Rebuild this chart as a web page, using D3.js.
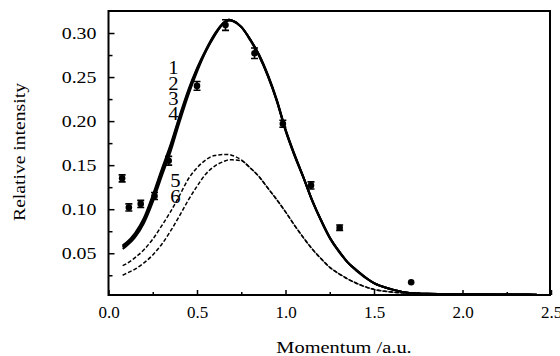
<!DOCTYPE html>
<html>
<head>
<meta charset="utf-8">
<script src="https://cdn.jsdelivr.net/npm/d3@7"></script>
<style>
  body { margin: 0; background: #fff; }
  text { font-family: "Liberation Serif", "Times New Roman", serif; fill: #000; }
</style>
</head>
<body>
<div id="chart"></div>
<script>
const chartWidth = 560;
const chartHeight = 356;

// measured data points with error bars
var pointX = [0.077, 0.115, 0.182, 0.26, 0.34, 0.50, 0.661, 0.825, 0.985, 1.144, 1.306, 1.71];
var pointY = [0.135, 0.102, 0.106, 0.115, 0.155, 0.240, 0.309, 0.277, 0.197, 0.127, 0.079, 0.017];
var pointErr = [0.004, 0.004, 0.004, 0.004, 0.005, 0.005, 0.006, 0.006, 0.004, 0.004, 0.003, 0.0];

// calculated curves, all sampled at curveX
var curveX = [0.08, 0.10, 0.15, 0.20, 0.25, 0.30, 0.35, 0.40, 0.45, 0.50,
              0.55, 0.60, 0.65, 0.68, 0.70, 0.75, 0.80, 0.85, 0.90, 0.95,
              1.00, 1.05, 1.10, 1.15, 1.20, 1.25, 1.30, 1.35, 1.40, 1.50,
              1.60, 1.70, 1.80, 2.00, 2.20, 2.42];
var curve1 = [0.057, 0.060, 0.070, 0.086, 0.111, 0.140, 0.168, 0.201, 0.232, 0.258,
              0.280, 0.298, 0.311, 0.315, 0.314, 0.307, 0.293, 0.275, 0.252, 0.224,
              0.190, 0.162, 0.137, 0.110, 0.088, 0.068, 0.053, 0.040, 0.031, 0.016,
              0.009, 0.005, 0.004, 0.0035, 0.0032, 0.003];
var curve2 = [0.059, 0.062, 0.073, 0.090, 0.116, 0.145, 0.173, 0.205, 0.235, 0.260,
              0.281, 0.299, 0.312, 0.315, 0.314, 0.307, 0.293, 0.275, 0.252, 0.224,
              0.190, 0.162, 0.137, 0.110, 0.088, 0.068, 0.053, 0.040, 0.031, 0.016,
              0.009, 0.005, 0.004, 0.0035, 0.0032, 0.003];
var curve3 = [0.055, 0.058, 0.068, 0.084, 0.108, 0.137, 0.165, 0.198, 0.229, 0.256,
              0.279, 0.297, 0.311, 0.314, 0.314, 0.307, 0.293, 0.276, 0.253, 0.225,
              0.191, 0.163, 0.137, 0.111, 0.088, 0.068, 0.053, 0.040, 0.031, 0.016,
              0.009, 0.005, 0.004, 0.0035, 0.0032, 0.003];
var curve4 = [0.058, 0.061, 0.071, 0.088, 0.114, 0.143, 0.171, 0.203, 0.233, 0.259,
              0.280, 0.298, 0.311, 0.315, 0.314, 0.307, 0.292, 0.274, 0.251, 0.223,
              0.189, 0.161, 0.136, 0.110, 0.087, 0.067, 0.052, 0.040, 0.030, 0.016,
              0.009, 0.005, 0.004, 0.0035, 0.0032, 0.003];
var curve5 = [0.036, 0.038, 0.045, 0.054, 0.066, 0.081, 0.097, 0.115, 0.134, 0.147,
              0.156, 0.161, 0.162, 0.162, 0.161, 0.156, 0.147, 0.137, 0.124, 0.111,
              0.097, 0.082, 0.068, 0.055, 0.044, 0.034, 0.027, 0.021, 0.016, 0.009,
              0.006, 0.0045, 0.004, 0.0035, 0.0032, 0.003];
var curve6 = [0.025, 0.027, 0.032, 0.039, 0.048, 0.060, 0.075, 0.092, 0.110, 0.126,
              0.140, 0.149, 0.154, 0.156, 0.156, 0.155, 0.147, 0.137, 0.124, 0.111,
              0.097, 0.082, 0.068, 0.055, 0.044, 0.034, 0.027, 0.021, 0.016, 0.009,
              0.006, 0.0045, 0.004, 0.0035, 0.0032, 0.003];

var xTicks = [0.0, 0.5, 1.0, 1.5, 2.0, 2.5];
var xMinor = [0.25, 0.75, 1.25, 1.75, 2.25];
var yTicks = [0.05, 0.10, 0.15, 0.20, 0.25, 0.30];
var yMinor = [0.025, 0.075, 0.125, 0.175, 0.225, 0.275];

var solidLabels = ["1", "2", "3", "4"];
var dashLabels = ["5", "6"];

var xScale = d3.scaleLinear().domain([0, 2.5]).range([108.5, 551]);
var yScale = d3.scaleLinear().domain([0.0026, 0.325]).range([295, 11]);

var svg = d3.select("#chart")
            .append("svg")
            .attr("width", chartWidth)
            .attr("height", chartHeight);

var line = d3.line()
            .x((d) => xScale(d[0]))
            .y((d) => yScale(d[1]))
            .curve(d3.curveMonotoneX);

var solids = [curve1, curve2, curve3, curve4];
solids.forEach(function(c) {
  svg.append("path")
      .datum(curveX.map((x, i) => [x, c[i]]))
      .attr("fill", "none")
      .attr("stroke", "#000")
      .attr("stroke-width", 2)
      .attr("d", line);
});

[curve5, curve6].forEach(function(c) {
  svg.append("path")
      .datum(curveX.map((x, i) => [x, c[i]]))
      .attr("fill", "none")
      .attr("stroke", "#000")
      .attr("stroke-width", 1.5)
      .attr("stroke-dasharray", "4,2")
      .attr("d", line);
});

// error bars + points
var pts = pointX.map((x, i) => ({x: x, y: pointY[i], e: pointErr[i]}));
var g = svg.append("g").selectAll("g").data(pts).enter().append("g");
g.filter(d => d.e > 0).append("path")
  .attr("fill", "none")
  .attr("stroke", "#000")
  .attr("stroke-width", 1.6)
  .attr("d", function(d) {
    var cx = xScale(d.x), y1 = yScale(d.y - d.e), y2 = yScale(d.y + d.e);
    return "M" + cx + "," + y1 + "V" + y2 +
           "M" + (cx - 3.5) + "," + y1 + "H" + (cx + 3.5) +
           "M" + (cx - 3.5) + "," + y2 + "H" + (cx + 3.5);
  });
g.append("circle")
  .attr("cx", d => xScale(d.x))
  .attr("cy", d => yScale(d.y))
  .attr("r", 3.3)
  .attr("fill", "#000");

// frame
svg.append("rect")
  .attr("x", xScale(0)).attr("y", yScale.range()[1])
  .attr("width", 550 - xScale(0))
  .attr("height", yScale.range()[0] - yScale.range()[1])
  .attr("fill", "none")
  .attr("stroke", "#000")
  .attr("stroke-width", 2);

var xAxis = d3.axisBottom(xScale).tickValues(xTicks).tickSize(-5).tickPadding(11)
              .tickFormat(d3.format(".1f"));
var gx = svg.append("g")
  .attr("transform", "translate(0," + yScale.range()[0] + ")")
  .call(xAxis);
gx.select(".domain").remove();
gx.selectAll("line").attr("stroke-width", 1.5);
gx.selectAll("text")
  .attr("font-size", 17)
  .each(function() {
    var t = d3.select(this);
    t.attr("transform", "translate(" + t.attr("x") + ",0) scale(1.08,1)").attr("x", 0);
  });

svg.append("g")
  .attr("transform", "translate(0," + yScale.range()[0] + ")")
  .call(d3.axisBottom(xScale).tickValues(xMinor).tickSize(-3).tickFormat(""))
  .call(s => s.select(".domain").remove())
  .selectAll("line").attr("stroke-width", 1.5);

var yAxis = d3.axisLeft(yScale).tickValues(yTicks).tickSize(-6).tickPadding(12)
              .tickFormat(d3.format(".2f"));
var gy = svg.append("g")
  .attr("transform", "translate(" + xScale(0) + ",0)")
  .call(yAxis);
gy.select(".domain").remove();
gy.selectAll("line").attr("stroke-width", 1.5);
gy.selectAll("text")
  .attr("font-size", 17)
  .attr("x", 0)
  .attr("transform", "translate(-12,0) scale(1.17,1)");

svg.append("g")
  .attr("transform", "translate(" + xScale(0) + ",0)")
  .call(d3.axisLeft(yScale).tickValues(yMinor).tickSize(-4).tickFormat(""))
  .call(s => s.select(".domain").remove())
  .selectAll("line").attr("stroke-width", 1.5);

// axis titles
svg.append("text")
  .attr("text-anchor", "middle")
  .attr("font-size", 17)
  .attr("transform", "translate(344,353) scale(1.2,1)")
  .text("Momentum /a.u.");

svg.append("text")
  .attr("text-anchor", "middle")
  .attr("font-size", 16.5)
  .attr("transform", "translate(24.5,152) rotate(-90) scale(1.19,1)")
  .text("Relative intensity");

// curve labels
svg.selectAll(".lab1").data(solidLabels).enter().append("text")
  .attr("text-anchor", "middle")
  .attr("font-size", 18)
  .attr("transform", (d, i) => "translate(173.5," + (74.3 + i * 15.3) + ") scale(1.15,1)")
  .text(d => d);

svg.selectAll(".lab2").data(dashLabels).enter().append("text")
  .attr("text-anchor", "middle")
  .attr("font-size", 18)
  .attr("transform", (d, i) => "translate(175.5," + (187 + i * 16) + ") scale(1.15,1)")
  .text(d => d);
</script>
</body>
</html>
